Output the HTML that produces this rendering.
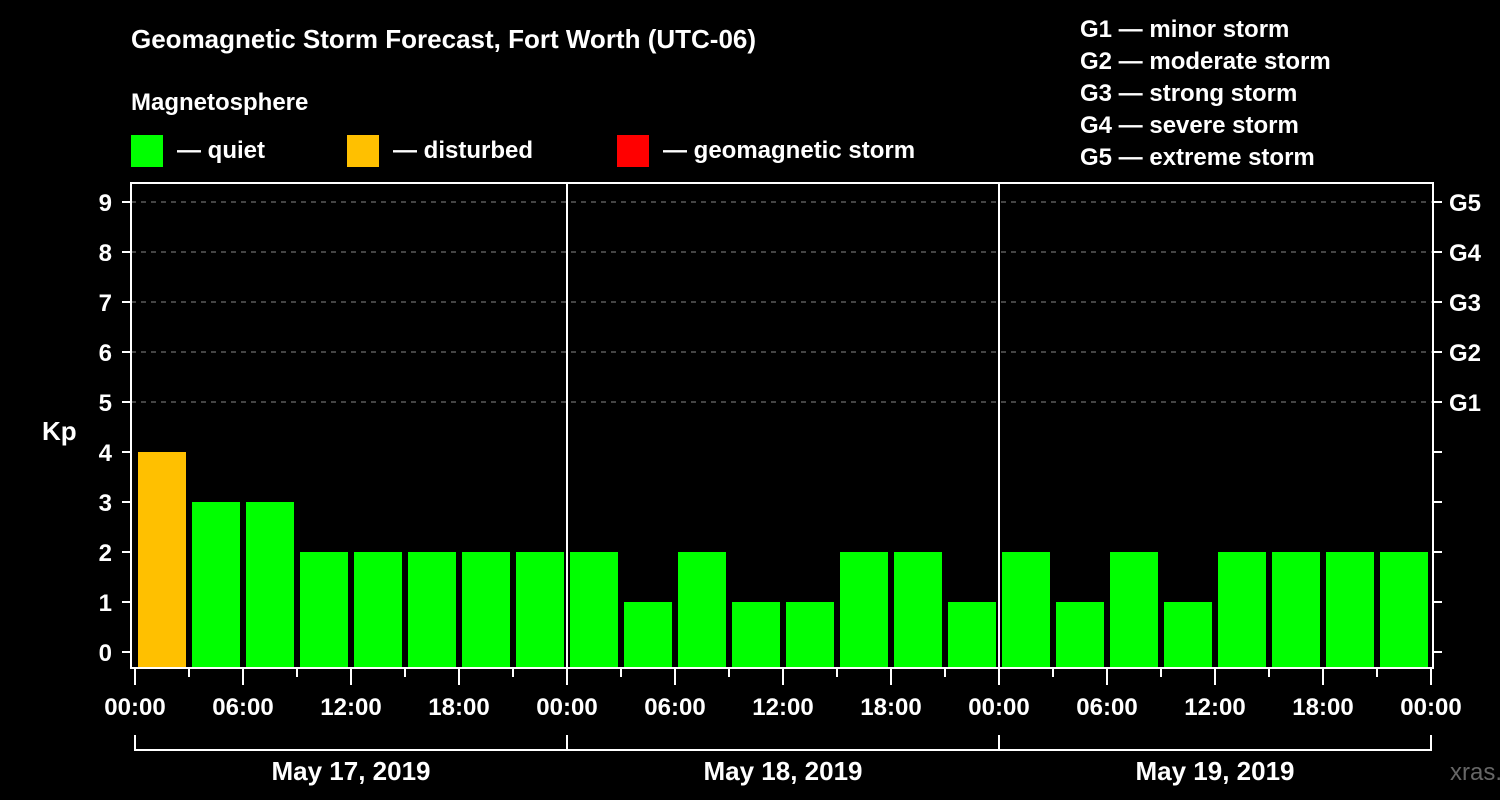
<!DOCTYPE html>
<html><head><meta charset="utf-8"><style>
html,body{margin:0;padding:0;background:#000;}
svg{display:block;font-family:"Liberation Sans",Arial,sans-serif;font-weight:bold;}
</style></head><body>
<svg id="chart" width="1500" height="800" viewBox="0 0 1500 800">
<rect width="1500" height="800" fill="#000"/>
<text x="131" y="48" fill="#fff" font-size="26">Geomagnetic Storm Forecast, Fort Worth (UTC-06)</text>
<text x="131" y="110" fill="#fff" font-size="24">Magnetosphere</text>
<g><rect x="131" y="135" width="32" height="32" fill="#00ff00"/><text x="177" y="158" fill="#fff" font-size="24">— quiet</text></g>
<g><rect x="347" y="135" width="32" height="32" fill="#ffc000"/><text x="393" y="158" fill="#fff" font-size="24">— disturbed</text></g>
<g><rect x="617" y="135" width="32" height="32" fill="#ff0000"/><text x="663" y="158" fill="#fff" font-size="24">— geomagnetic storm</text></g>
<g fill="#fff" font-size="24">
<text x="1080" y="37">G1 — minor storm</text>
<text x="1080" y="69">G2 — moderate storm</text>
<text x="1080" y="101">G3 — strong storm</text>
<text x="1080" y="133">G4 — severe storm</text>
<text x="1080" y="165">G5 — extreme storm</text>
</g>
<text x="42" y="440" fill="#fff" font-size="26">Kp</text>
<text x="1450" y="780" fill="#666" font-size="24" font-weight="normal">xras.ru</text>
<g id="plot"></g>
</svg>
<script>
const kpValues = [4,3,3,2,2,2,2,2, 2,1,2,1,1,2,2,1, 2,1,2,1,2,2,2,2];
const hourLabels = ["00:00","06:00","12:00","18:00"];
const dayLabels = ["May 17, 2019","May 18, 2019","May 19, 2019"];
const gLabels = ["G1","G2","G3","G4","G5"];
const yTicks = [0,1,2,3,4,5,6,7,8,9];

const NS="http://www.w3.org/2000/svg";
const g=document.getElementById('plot');
const X0=135, PXH=18, Y0=652, PXK=50, TOP=183, BOT=668, RIGHT=1433;
const xs=h=>X0+h*PXH, ys=k=>Y0-k*PXK;
function mk(t,a){const e=document.createElementNS(NS,t);for(const k in a)e.setAttribute(k,a[k]);g.appendChild(e);return e;}

yTicks.forEach(k=>{
  if(k>=5){const l=mk('line',{x1:131,x2:RIGHT,y1:ys(k),y2:ys(k),stroke:'#888','stroke-dasharray':'5,5','stroke-width':1});
  
  }
  const t=mk('line',{x1:122,x2:131,y1:ys(k),y2:ys(k),stroke:'#fff','stroke-width':2});
  
  
  const t2=mk('line',{x1:RIGHT,x2:1442,y1:ys(k),y2:ys(k),stroke:'#fff','stroke-width':2});
  
  
  const tx=mk('text',{x:112,y:ys(k)+9,fill:'#fff','font-size':24,'text-anchor':'end'});
  tx.textContent=k;
  
  
});
gLabels.forEach((s,i)=>{
  const tx=mk('text',{x:1449,y:ys(5+i)+9,fill:'#fff','font-size':24});
  tx.textContent=s;
  
  
});
kpValues.forEach((v,i)=>{
  const col=v>=5?'#ff0000':(v>=4?'#ffc000':'#00ff00');
  const r=mk('rect',{x:xs(i*3)+3,y:ys(v),width:48,height:BOT-ys(v),fill:col});
  
  
});
const fr=mk('rect',{x:131,y:TOP,width:RIGHT-131,height:BOT-TOP,fill:'none',stroke:'#fff','stroke-width':2});


for(let d=1;d<dayLabels.length;d++){
  const l=mk('line',{x1:xs(d*24),x2:xs(d*24),y1:TOP,y2:BOT,stroke:'#fff','stroke-width':2});
  
  
}
for(let h=0;h<=72;h+=3){
  const major=h%6===0;
  const l=mk('line',{x1:xs(h),x2:xs(h),y1:BOT,y2:major?685:677,stroke:'#fff','stroke-width':2});
  
  
  if(major){
    const tx=mk('text',{x:xs(h),y:715,fill:'#fff','font-size':24,'text-anchor':'middle'});
    tx.textContent=hourLabels[(h/6)%4];
    
    
  }
}
const br=mk('path',{d:`M${xs(0)},735 V750 H${xs(72)} V735`,fill:'none',stroke:'#fff','stroke-width':2});


dayLabels.forEach((s,d)=>{
  if(d>0){const l=mk('line',{x1:xs(d*24),x2:xs(d*24),y1:735,y2:750,stroke:'#fff','stroke-width':2});
  
  }
  const tx=mk('text',{x:xs(d*24+12),y:780,fill:'#fff','font-size':26,'text-anchor':'middle'});
  tx.textContent=s;
  
  
});
</script>
</body></html>
